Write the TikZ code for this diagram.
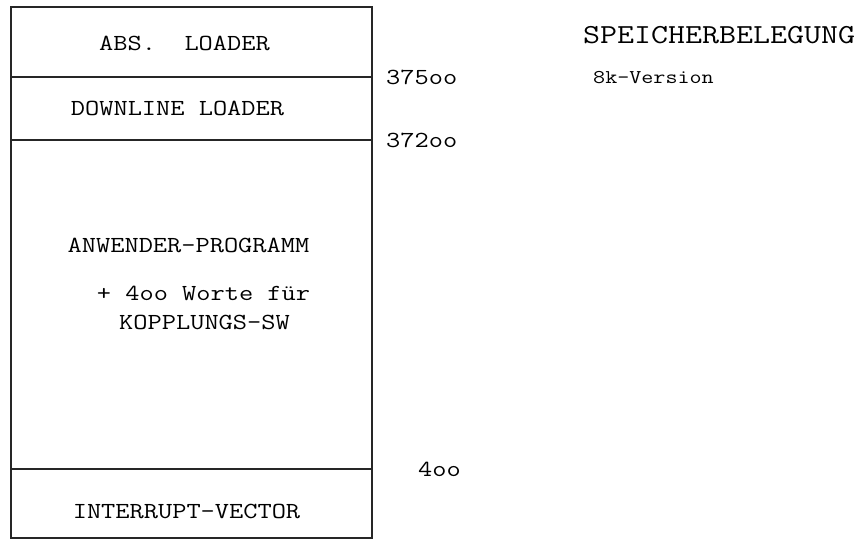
\documentclass[tikz,border=0pt]{standalone}
\usepackage{graphicx}
\usetikzlibrary{positioning}

% typewriter text, stretched a little
\newcommand{\tw}[1]{\scalebox{1.2}[1]{#1}}

\begin{document}
\begin{tikzpicture}[x=1pt, y=-1pt,
    sect/.style={draw=black!85, line width=1.1pt, minimum width=361pt,
                 inner sep=0pt, outer sep=0pt},
    txt/.style={font=\ttfamily\fontsize{23}{27}\selectfont, inner sep=0pt},
    addr/.style={txt, anchor=west},
    titel/.style={font=\ttfamily\fontsize{27.5}{32}\selectfont, inner sep=0pt, anchor=west}
  ]
  \useasboundingbox (0,0) rectangle (855,541);
  % memory map, top to bottom
  \node[sect, minimum height=70pt, anchor=north west] (abs) at (11,7) {};
  \node[sect, minimum height=63pt, below=0pt of abs]   (down) {};
  \node[sect, minimum height=329pt, below=0pt of down] (prog) {};
  \node[sect, minimum height=69pt, below=0pt of prog]  (intr) {};

  \node[txt] (abst)  at ([xshift=-7pt, yshift=-1pt]abs.center)   {\tw{ABS.\ \ LOADER}};
  \node[txt] (downt) at ([xshift=-14pt]down.center)              {\tw{DOWNLINE LOADER}};
  \node[txt] (anwt)  at ([xshift=-3pt, yshift=-105pt]prog.north) {\tw{ANWENDER-PROGRAMM}};
  \node[txt] (wortt) at ([xshift=12pt, yshift=-153pt]prog.north) {\tw{+ 4oo Worte für}};
  \node[txt] (kopt)  at ([xshift=13pt, yshift=-182pt]prog.north) {\tw{KOPPLUNGS-SW}};
  \node[txt] (intrt) at ([xshift=-5pt, yshift=-8pt]intr.center)  {\tw{INTERRUPT-VECTOR}};

  % addresses
  \node[addr, right=14pt of abs.south east]  (a375) {\tw{375oo}};
  \node[addr, right=14pt of down.south east] (a372) {\tw{372oo}};
  \node[addr, right=46pt of prog.south east] (a4)   {\tw{4oo}};

  \node[titel] (titel) at (583,35) {\tw{SPEICHERBELEGUNG}};
  \node[addr, font=\ttfamily\fontsize{19.5}{23}\selectfont] (vers) at (593,78) {\tw{8k-Version}};
\end{tikzpicture}
\end{document}
